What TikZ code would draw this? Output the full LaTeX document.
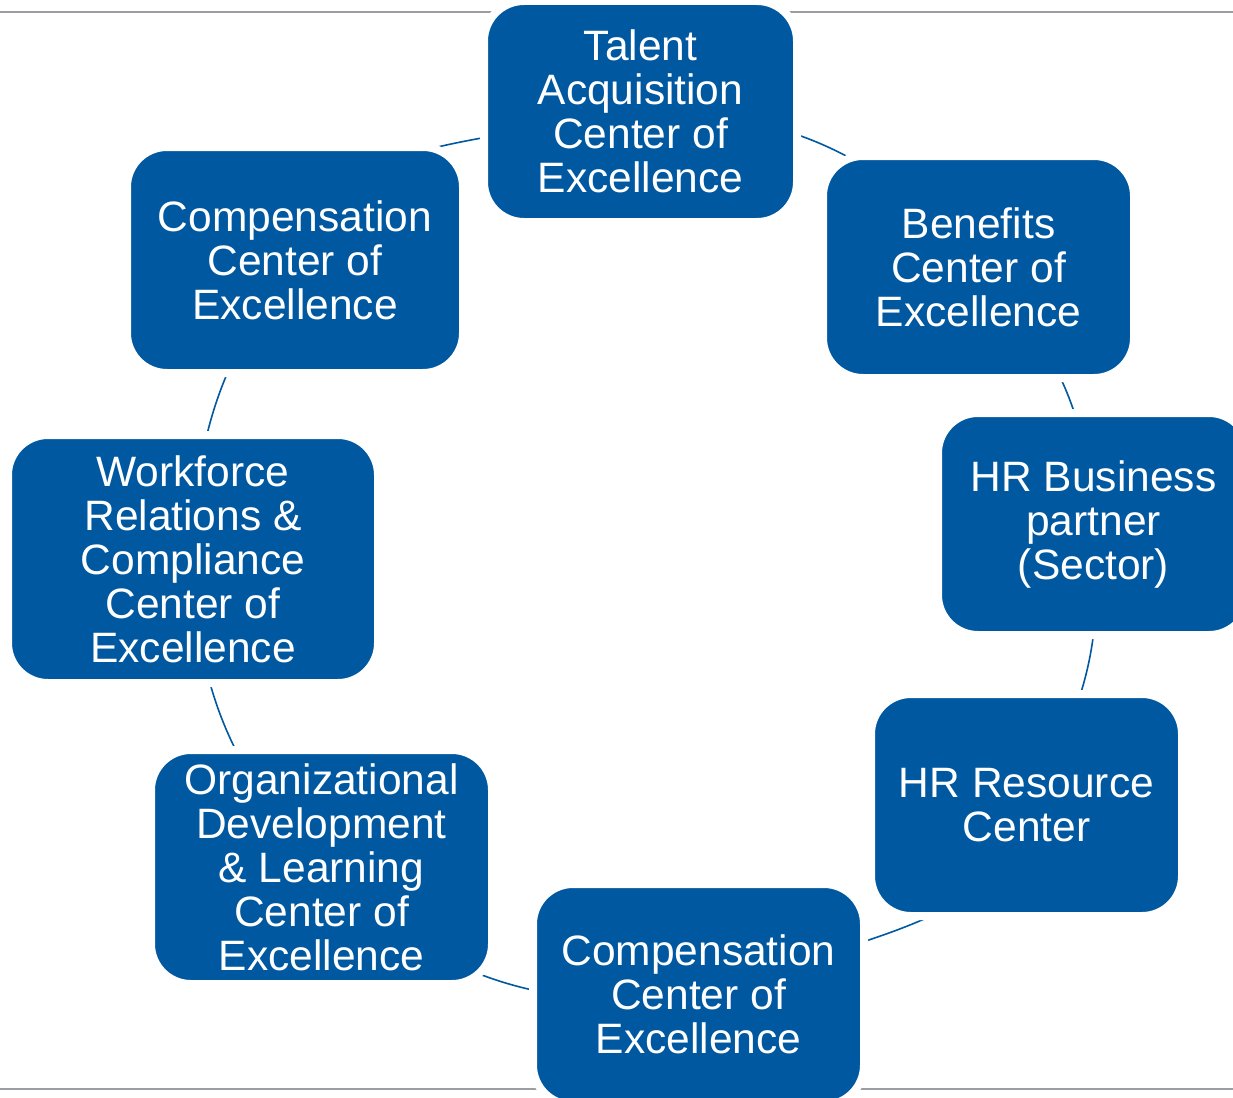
\documentclass[tikz,border=0pt]{standalone}
\usepackage{fontspec}
\setmainfont{Liberation Sans}
\usetikzlibrary{backgrounds}
\definecolor{boxblue}{RGB}{0,88,160}
\definecolor{rulegray}{RGB}{154,158,162}
\begin{document}
\begin{tikzpicture}[x=1pt,y=-1pt,
  hrbox/.style={rectangle, rounded corners=40pt, fill=boxblue, draw=white,
    line width=8pt, text=white, align=center, inner sep=0pt,
    font=\fontsize{42.5}{44}\selectfont},
  link/.style={draw=boxblue, line width=1.6pt},
  rule/.style={draw=rulegray, line width=2pt}]
\useasboundingbox (0,0) rectangle (1233,1097);
\clip (0,0) rectangle (1233,1097);
\node[hrbox, minimum width=313pt, minimum height=221pt] (talent) at (640.5,111.5)
  {Talent\\Acquisition\\Center of\\Excellence};
\node[hrbox, minimum width=311pt, minimum height=222pt] (benefits) at (978.5,267)
  {Benefits\\Center of\\Excellence};
\node[hrbox, minimum width=311pt, minimum height=222pt] (hrbp) at (1093.5,524)
  {HR Business\\partner\\(Sector)};
\node[hrbox, minimum width=311pt, minimum height=222pt] (hrrc) at (1026.5,805)
  {HR Resource\\Center};
\node[hrbox, minimum width=331pt, minimum height=221pt] (compb) at (698.5,994.5)
  {Compensation\\Center of\\Excellence};
\node[hrbox, minimum width=341pt, minimum height=234pt] (org) at (321.5,867)
  {Organizational\\Development\\\& Learning\\Center of\\Excellence};
\node[hrbox, minimum width=370pt, minimum height=248pt] (work) at (193,559)
  {Workforce\\Relations \&\\Compliance\\Center of\\Excellence};
\node[hrbox, minimum width=336pt, minimum height=226pt] (compt) at (295,260)
  {Compensation\\Center of\\Excellence};
\begin{scope}[on background layer]
  \fill[white] (0,0) rectangle (1233,1097);
  \coordinate (tl) at (0,12);
  \coordinate (tr) at (1233,12);
  \coordinate (bl) at (0,1089);
  \coordinate (br) at (1233,1089);
  \draw[rule] (tl) -- (tr);
  \draw[rule] (bl) -- (br);
  \draw[link] (talent.center) to[bend left=25] (benefits.center);
  \draw[link] (benefits.center) to[bend left=21] (hrbp.center);
  \draw[link] (hrbp.center) to[bend left=19] (hrrc.center);
  \draw[link] (hrrc.center) .. controls +(-26,115) and +(200,-68) .. (compb.center);
  \draw[link] (compb.center) to[bend left=26] (org.center);
  \draw[link] (org.center) to[bend left=21] (work.center);
  \draw[link] (work.center) to[bend left=18] (compt.center);
  \draw[link] (compt.center) .. controls +(30,-115) and +(-200,36) .. (talent.center);
\end{scope}
\end{tikzpicture}
\end{document}
